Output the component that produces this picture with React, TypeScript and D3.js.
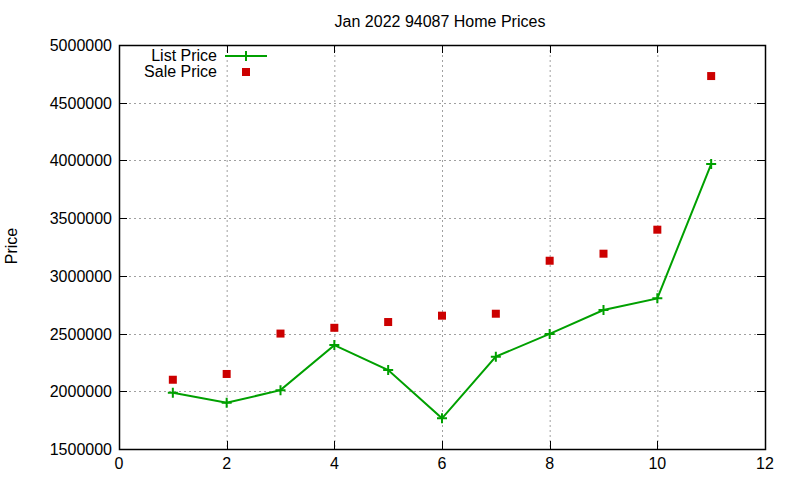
import React, { useEffect, useRef } from 'react';
import * as d3 from 'd3';

// data
const months = [1, 2, 3, 4, 5, 6, 7, 8, 9, 10, 11];
const listPrice = [1988000, 1900000, 2010000, 2400000, 2184000, 1766000, 2300000, 2497000, 2704000, 2805000, 3969000];
const salePrice = [2100000, 2150000, 2500000, 2550000, 2600000, 2655000, 2672000, 3131000, 3192000, 3400000, 4731000];
const xTicks = [0, 2, 4, 6, 8, 10, 12];
const yTicks = [1500000, 2000000, 2500000, 3000000, 3500000, 4000000, 4500000, 5000000];

const W = 800;
const H = 480;
const FONT = '"Liberation Sans", Arial, sans-serif';
const GREEN = '#00a000';
const RED = '#cc0000';

const App: React.FC = () => {
  const svgRef = useRef<SVGSVGElement>(null);

  useEffect(() => {
    document.body.style.margin = '0';
    if (!svgRef.current) return;

    const left = 119, right = 765, top = 45, bottom = 449;
    const x = d3.scaleLinear().domain([0, 12]).range([left, right]);
    const y = d3.scaleLinear().domain([1500000, 5000000]).range([bottom, top]);

    const svg = d3.select(svgRef.current);
    svg.selectAll('*').remove();
    svg.append('rect').attr('width', W).attr('height', H).attr('fill', '#fff');

    // Grid
    const grid = svg.append('g')
      .attr('stroke', '#a0a0a0')
      .attr('stroke-width', 1)
      .attr('stroke-dasharray', '2,3');
    grid.selectAll('line.gx')
      .data(xTicks.slice(1, -1))
      .join('line')
      .attr('x1', d => x(d) + 0.5).attr('x2', d => x(d) + 0.5)
      .attr('y1', top).attr('y2', bottom);
    grid.selectAll('line.gy')
      .data(yTicks.slice(1, -1))
      .join('line')
      .attr('y1', d => Math.round(y(d)) + 0.5).attr('y2', d => Math.round(y(d)) + 0.5)
      .attr('x1', left).attr('x2', right);

    // Ticks, inward on all sides
    const tl = 8;
    const ticks = svg.append('g').attr('stroke', '#000').attr('stroke-width', 1);
    xTicks.forEach(t => {
      const px = Math.round(x(t)) + 0.5;
      ticks.append('line').attr('x1', px).attr('x2', px).attr('y1', bottom).attr('y2', bottom - tl);
      ticks.append('line').attr('x1', px).attr('x2', px).attr('y1', top).attr('y2', top + tl);
    });
    yTicks.forEach(t => {
      const py = Math.round(y(t)) + 0.5;
      ticks.append('line').attr('x1', left).attr('x2', left + tl).attr('y1', py).attr('y2', py);
      ticks.append('line').attr('x1', right).attr('x2', right - tl).attr('y1', py).attr('y2', py);
    });

    // Frame
    svg.append('rect')
      .attr('x', left + 0.5).attr('y', top + 0.5)
      .attr('width', right - left).attr('height', bottom - top)
      .attr('fill', 'none').attr('stroke', '#000').attr('stroke-width', 1.5);

    // Tick labels
    svg.append('g')
      .attr('font-family', FONT).attr('font-size', 16).attr('text-anchor', 'middle')
      .selectAll('text')
      .data(xTicks)
      .join('text')
      .attr('x', d => x(d))
      .attr('y', bottom + 20)
      .text(d => d);
    svg.append('g')
      .attr('font-family', FONT).attr('font-size', 16).attr('text-anchor', 'end')
      .selectAll('text')
      .data(yTicks)
      .join('text')
      .attr('x', left - 7)
      .attr('y', d => y(d) + 6)
      .text(d => d);

    // Titles
    svg.append('text')
      .attr('x', 440).attr('y', 27)
      .attr('text-anchor', 'middle')
      .attr('font-family', FONT).attr('font-size', 16)
      .text('Jan 2022 94087 Home Prices');
    svg.append('text')
      .attr('transform', 'translate(17,246) rotate(-90)')
      .attr('text-anchor', 'middle')
      .attr('font-family', FONT).attr('font-size', 16)
      .text('Price');

    // List price line
    const line = d3.line<number>()
      .x((_, i) => x(months[i]))
      .y(d => y(d));
    svg.append('path')
      .datum(listPrice)
      .attr('d', line)
      .attr('fill', 'none')
      .attr('stroke', GREEN)
      .attr('stroke-width', 2);

    const plus = (g: d3.Selection<SVGGElement, unknown, null, undefined>, cx: number, cy: number) => {
      g.append('path')
        .attr('d', `M${cx - 5},${cy}H${cx + 5}M${cx},${cy - 5}V${cy + 5}`)
        .attr('stroke', GREEN).attr('stroke-width', 2).attr('fill', 'none');
    };
    const marks = svg.append('g');
    listPrice.forEach((v, i) => plus(marks, x(months[i]), y(v)));

    // Sale price squares
    svg.append('g')
      .selectAll('rect')
      .data(salePrice)
      .join('rect')
      .attr('x', (_, i) => x(months[i]) - 4)
      .attr('y', d => y(d) - 4)
      .attr('width', 8).attr('height', 8)
      .attr('fill', RED);

    // Legend
    const lg = svg.append('g').attr('font-family', FONT).attr('font-size', 16).attr('text-anchor', 'end');
    lg.append('text').attr('x', 217).attr('y', 61).text('List Price');
    lg.append('text').attr('x', 217).attr('y', 77).text('Sale Price');
    lg.append('line')
      .attr('x1', 225).attr('x2', 267).attr('y1', 56).attr('y2', 56)
      .attr('stroke', GREEN).attr('stroke-width', 2);
    plus(lg as any, 246, 56);
    lg.append('rect').attr('x', 242).attr('y', 68).attr('width', 8).attr('height', 8).attr('fill', RED);
  }, []);

  return <svg ref={svgRef} width={W} height={H} style={{ display: 'block' }} />;
};

export default App;
